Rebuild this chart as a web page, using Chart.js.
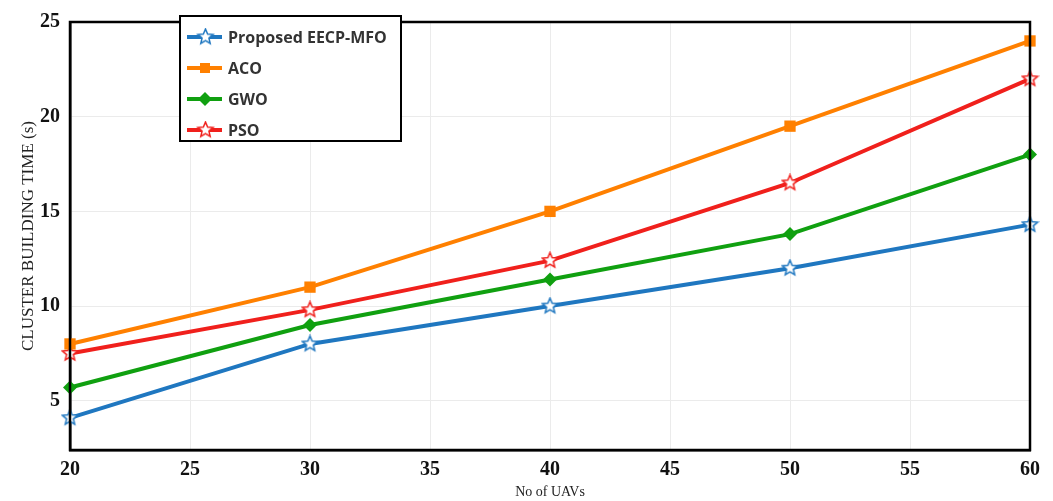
<!DOCTYPE html>
<html>
<head>
<meta charset="utf-8">
<script src="https://cdn.jsdelivr.net/npm/chart.js@4.4.1/dist/chart.umd.min.js"></script>
<style>
  html, body { margin: 0; padding: 0; background: #fff; }
  #wrap { width: 1053px; height: 501px; }
</style>
</head>
<body>
<div id="wrap"><canvas id="uavChart" width="1053" height="501"></canvas></div>
<script>
const uavCounts = [20, 30, 40, 50, 60];
const seriesNames = ['Proposed EECP-MFO', 'ACO', 'GWO', 'PSO'];
const mfoTimes = [4.1, 8.0, 10.0, 12.0, 14.3];
const acoTimes = [8.0, 11.0, 15.0, 19.5, 24.0];
const gwoTimes = [5.7, 9.0, 11.4, 13.8, 18.0];
const psoTimes = [7.5, 9.8, 12.4, 16.5, 22.0];
const yTickValues = [5, 10, 15, 20, 25];

const colors = ['#1f77c0', '#ff8000', '#10a010', '#f0201c'];

// outlined five point star used as a marker
const makeStar = (color, size) => {
  const c = document.createElement('canvas');
  c.width = size; c.height = size;
  const g = c.getContext('2d');
  const cx = size / 2, cy = size / 2, ro = size / 2 - 1.5, ri = ro * 0.45;
  g.beginPath();
  for (let i = 0; i < 10; i++) {
    const r = i % 2 === 0 ? ro : ri;
    const a = -Math.PI / 2 + i * Math.PI / 5;
    const px = cx + r * Math.cos(a), py = cy + r * Math.sin(a);
    if (i === 0) g.moveTo(px, py); else g.lineTo(px, py);
  }
  g.closePath();
  g.fillStyle = '#fff';
  g.fill();
  g.lineWidth = 1.5;
  g.strokeStyle = color;
  g.stroke();
  return c;
};

const blueStar = makeStar(colors[0], 19);
const redStar = makeStar(colors[3], 19);

const markers = [
  { pointStyle: blueStar, radius: 9 },
  { pointStyle: 'rect', radius: 8 },
  { pointStyle: 'rectRot', radius: 7 },
  { pointStyle: redStar, radius: 9 },
];

const seriesData = [mfoTimes, acoTimes, gwoTimes, psoTimes];

const datasets = seriesNames.map((name, i) => ({
  label: name,
  data: seriesData[i],
  borderColor: colors[i],
  backgroundColor: colors[i],
  borderWidth: 4,
  pointStyle: markers[i].pointStyle,
  pointRadius: markers[i].radius,
  pointBorderWidth: 0,
  tension: 0,
  clip: false,
}));

const frameAndLegend = {
  id: 'frameAndLegend',
  afterDraw(chart) {
    const { ctx, chartArea: a } = chart;
    ctx.save();
    ctx.strokeStyle = '#000';
    ctx.lineWidth = 2.5;
    ctx.strokeRect(a.left, a.top, a.right - a.left, a.bottom - a.top);

    // legend box
    const bx = 180, by = 16, bw = 221, bh = 125;
    ctx.fillStyle = '#fff';
    ctx.fillRect(bx, by, bw, bh);
    ctx.lineWidth = 2;
    ctx.strokeRect(bx, by, bw, bh);
    ctx.font = 'bold 16px "Open Sans"';
    ctx.textBaseline = 'middle';
    seriesNames.forEach((name, i) => {
      const y = by + 21 + i * 31;
      ctx.strokeStyle = colors[i];
      ctx.lineWidth = 4;
      ctx.beginPath();
      ctx.moveTo(bx + 7, y);
      ctx.lineTo(bx + 42, y);
      ctx.stroke();
      const m = markers[i];
      if (typeof m.pointStyle === 'string') {
        ctx.fillStyle = colors[i];
        ctx.beginPath();
        if (m.pointStyle === 'rect') {
          ctx.rect(bx + 20, y - 5, 10, 10);
        } else {
          ctx.moveTo(bx + 25, y - 7); ctx.lineTo(bx + 32, y);
          ctx.lineTo(bx + 25, y + 7); ctx.lineTo(bx + 18, y);
          ctx.closePath();
        }
        ctx.fill();
      } else {
        ctx.drawImage(m.pointStyle, bx + 16, y - 9.5);
      }
      ctx.fillStyle = '#333';
      ctx.fillText(name, bx + 48, y + 1);
    });
    ctx.restore();
  },
};

new Chart(document.getElementById('uavChart').getContext('2d'), {
  type: 'line',
  data: { labels: uavCounts, datasets },
  options: {
    responsive: false,
    animation: false,
    layout: { padding: { left: 0, right: 23, top: 16, bottom: 0 } },
    plugins: {
      legend: { display: false },
      tooltip: { enabled: false },
    },
    scales: {
      x: {
        type: 'linear',
        min: 20,
        max: 60,
        ticks: {
          stepSize: 5,
          color: '#111',
          padding: 8,
          font: { family: '"Liberation Serif"', weight: 'bold', size: 20 },
        },
        grid: { color: '#ebebeb', drawTicks: false },
        border: { color: '#000', width: 2.5 },
        title: {
          display: true,
          text: 'No of UAVs',
          color: '#222',
          padding: { top: -4, bottom: 0 },
          font: { family: '"Liberation Serif"', size: 14 },
        },
        afterFit: (s) => { s.height = 51; },
      },
      y: {
        min: 2.4,
        max: 25,
        afterBuildTicks: (s) => { s.ticks = yTickValues.map((v) => ({ value: v })); },
        ticks: {
          color: '#111',
          padding: 10,
          font: { family: '"Liberation Serif"', weight: 'bold', size: 20 },
        },
        grid: { color: '#ebebeb', drawTicks: false },
        border: { color: '#000', width: 2.5 },
        title: {
          display: true,
          text: 'CLUSTER BUILDING TIME (s)',
          color: '#222',
          padding: { top: 18, bottom: 0 },
          font: { family: '"Liberation Serif"', size: 17 },
        },
        afterFit: (s) => { s.width = 70; },
      },
    },
  },
  plugins: [frameAndLegend],
});
</script>
</body>
</html>
